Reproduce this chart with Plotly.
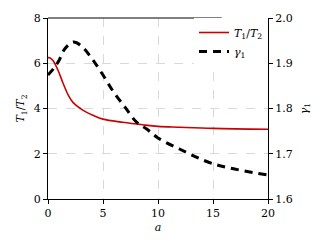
import plotly.graph_objects as go

a_red = [0, 0.15, 0.45, 0.9, 1.36, 1.8, 2.27, 3.2, 4.1, 5, 6.8, 8.6, 10, 12, 15, 20]
ratio = [6.25, 6.24, 6.12, 5.70, 5.13, 4.63, 4.27, 3.92, 3.70, 3.53, 3.39, 3.28, 3.21, 3.17, 3.12, 3.08]

a_g = [0, 0.5, 1, 1.5, 2.3, 3, 4, 5, 6, 7, 8, 9, 10, 12, 15, 20]
gamma = [1.874, 1.888, 1.906, 1.931, 1.947, 1.939, 1.91, 1.874, 1.835, 1.803, 1.771, 1.754, 1.735, 1.71, 1.678, 1.653]

FAM = "DejaVu Serif"
font = dict(family=FAM, size=11, color="black")

fig = go.Figure()
fig.add_trace(go.Scatter(x=a_red, y=ratio, mode="lines", line=dict(color="#cc0000", width=1.6, shape="spline"),
                         name="<i>T</i><sub>1</sub>/<i>T</i><sub>2</sub>"))
fig.add_trace(go.Scatter(x=a_g, y=gamma, mode="lines", yaxis="y2",
                         line=dict(color="black", width=3, dash="8px,6px", shape="spline"),
                         name="<i>γ</i><sub>1</sub>"))

fig.update_layout(
    width=325, height=244, margin=dict(l=48, r=57, t=13, b=44),
    paper_bgcolor="white", plot_bgcolor="white", font=font,
    xaxis=dict(range=[0, 20], tickvals=[0, 5, 10, 15, 20], showline=True, linecolor="black", linewidth=1,
               ticks="outside", ticklen=4, tickcolor="black", showgrid=True, gridcolor="#d9d9d9",
               griddash="dash", zeroline=False, tickfont=font,
               title=dict(text="<i>a</i>", standoff=4, font=font)),
    yaxis=dict(range=[0, 8], tickvals=[0, 2, 4, 6, 8], showline=True, linecolor="black", linewidth=1,
               ticks="outside", ticklen=4, tickcolor="black", showgrid=True, gridcolor="#d9d9d9",
               griddash="dash", zeroline=False, tickfont=font,
               title=dict(text="<i>T</i><sub>1</sub>/<i>T</i><sub>2</sub>", standoff=6, font=font)),
    yaxis2=dict(range=[1.6, 2.0], tickvals=[1.6, 1.7, 1.8, 1.9, 2.0], ticktext=["1.6", "1.7", "1.8", "1.9", "2.0"],
                overlaying="y", side="right", showline=True, linecolor="black", linewidth=1,
                ticks="outside", ticklen=4, tickcolor="black", showgrid=False, zeroline=False, tickfont=font,
                title=dict(text="<i>γ</i><sub>1</sub>", standoff=8, font=font)),
    legend=dict(x=1, xanchor="right", y=1, yanchor="top", bgcolor="white", borderwidth=0,
                font=font, itemwidth=30, tracegroupgap=0),
    showlegend=True,
)
fig.add_shape(type="line", xref="paper", yref="paper", x0=0, x1=0.79, y0=1, y1=1,
              line=dict(color="black", width=1))
fig.write_html("out.html")
